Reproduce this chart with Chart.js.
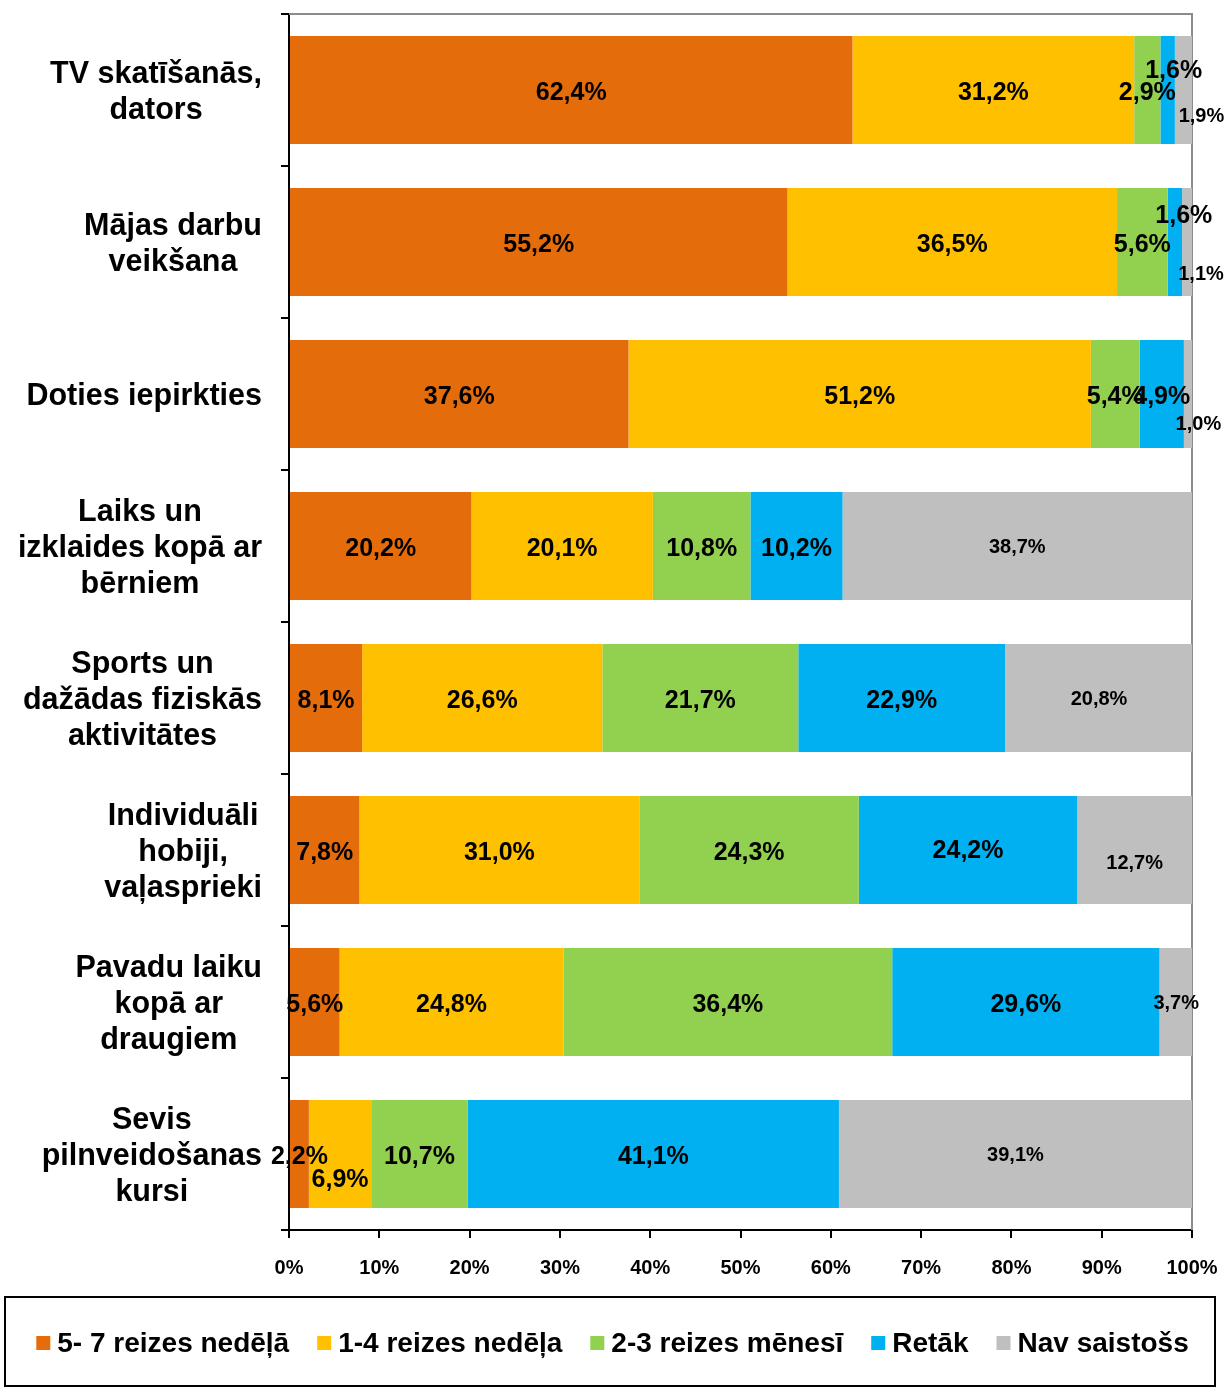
<!DOCTYPE html>
<html lang="lv">
<head>
<meta charset="UTF-8">
<title>Brīvā laika aktivitātes</title>
<script src="https://cdn.jsdelivr.net/npm/chart.js"></script>
<style>
  html, body { margin: 0; padding: 0; background: #fff; }
  #wrap { width: 1225px; height: 1393px; }
</style>
</head>
<body>
<div id="wrap"><canvas id="chart"></canvas></div>
<script>
// kategorijas (rindas no augšas uz leju)
const categories = [
  ["TV skatīšanās,", "dators"],
  ["Mājas darbu", "veikšana"],
  ["Doties iepirkties"],
  ["Laiks un", "izklaides kopā ar", "bērniem"],
  ["Sports un", "dažādas fiziskās", "aktivitātes"],
  ["Individuāli", "hobiji,", "vaļasprieki"],
  ["Pavadu laiku", "kopā ar", "draugiem"],
  ["Sevis", "pilnveidošanas", "kursi"]
];

const seriesNames = ["5- 7 reizes nedēļā", "1-4 reizes nedēļa", "2-3 reizes mēnesī", "Retāk", "Nav saistošs"];

const daily   = [62.4, 55.2, 37.6, 20.2,  8.1,  7.8,  5.6,  2.2];
const weekly  = [31.2, 36.5, 51.2, 20.1, 26.6, 31.0, 24.8,  6.9];
const monthly = [ 2.9,  5.6,  5.4, 10.8, 21.7, 24.3, 36.4, 10.7];
const rarely  = [ 1.6,  1.6,  4.9, 10.2, 22.9, 24.2, 29.6, 41.1];
const never   = [ 1.9,  1.1,  1.0, 38.7, 20.8, 12.7,  3.7, 39.1];

const xTicks = [0, 10, 20, 30, 40, 50, 60, 70, 80, 90, 100];

const colors = ["#E46C0A", "#FFC000", "#92D050", "#00B0F0", "#BFBFBF"];

// atsevišķu uzrakstu nobīdes (rinda, sērija, dx, dy)
const labelNudges = [
  [0, 3, 6, -19], [0, 4, 18, 26],
  [1, 3, 9, -26], [1, 4, 14, 32],
  [2, 4, 10, 30],
  [5, 3, 0, 1], [5, 4, 0, 13],
  [7, 1, 0, 26]
];

const FONT = "'Liberation Sans', Arial, sans-serif";

const fmt = v => v.toFixed(1).replace('.', ',') + '%';

const frameLines = {
  id: 'frameLines',
  beforeDatasetsDraw(chart) {
    const a = chart.chartArea, ctx = chart.ctx;
    ctx.save();
    ctx.strokeStyle = '#8c8c8c';
    ctx.lineWidth = 2;
    ctx.beginPath();
    ctx.moveTo(a.left, a.top);
    ctx.lineTo(a.right, a.top);
    ctx.lineTo(a.right, a.bottom);
    ctx.stroke();
    ctx.restore();
  }
};

const segLabels = {
  id: 'segLabels',
  afterDatasetsDraw(chart) {
    const ctx = chart.ctx;
    ctx.save();
    ctx.fillStyle = '#000';
    ctx.textAlign = 'center';
    ctx.textBaseline = 'middle';
    chart.data.datasets.forEach((ds, di) => {
      const meta = chart.getDatasetMeta(di);
      ctx.font = 'bold ' + (di === 4 ? 20 : 25) + 'px ' + FONT;
      meta.data.forEach((el, i) => {
        let dx = 0, dy = di === 4 ? 1 : 3;
        labelNudges.forEach(n => {
          if (n[0] === i && n[1] === di) { dx = n[2]; dy = n[3]; }
        });
        ctx.fillText(fmt(ds.data[i]), (el.x + el.base) / 2 + dx, el.y + dy);
      });
    });
    ctx.restore();
  }
};

const catLabels = {
  id: 'catLabels',
  afterDraw(chart) {
    const ctx = chart.ctx, y = chart.scales.y;
    const right = 262, lh = 36;
    ctx.save();
    ctx.font = 'bold 30.5px ' + FONT;
    ctx.fillStyle = '#000';
    ctx.textAlign = 'center';
    ctx.textBaseline = 'middle';
    categories.forEach((lines, i) => {
      const w = Math.max(...lines.map(l => ctx.measureText(l).width));
      const cx = right - w / 2;
      const cy = y.getPixelForValue(i) + 3;
      lines.forEach((l, k) => {
        ctx.fillText(l, cx, cy + (k - (lines.length - 1) / 2) * lh);
      });
    });
    ctx.restore();
  }
};

const boxLegend = {
  id: 'boxLegend',
  afterDraw(chart) {
    const ctx = chart.ctx;
    const box = 14, gapText = 7, gapItem = 28, cy = 1343;
    ctx.save();
    ctx.strokeStyle = '#000';
    ctx.lineWidth = 2;
    ctx.strokeRect(5, 1297, 1210, 89);
    ctx.font = 'bold 28px ' + FONT;
    ctx.textBaseline = 'middle';
    ctx.textAlign = 'left';
    const widths = seriesNames.map(s => ctx.measureText(s).width);
    let total = 0;
    widths.forEach((w, i) => { total += box + gapText + w + (i < widths.length - 1 ? gapItem : 0); });
    let x = (chart.width - total) / 2;
    seriesNames.forEach((s, i) => {
      ctx.fillStyle = colors[i];
      ctx.fillRect(x, cy - box / 2, box, box);
      ctx.fillStyle = '#000';
      ctx.fillText(s, x + box + gapText, cy + 1);
      x += box + gapText + widths[i] + gapItem;
    });
    ctx.restore();
  }
};

const allSeries = [daily, weekly, monthly, rarely, never];

new Chart(document.getElementById('chart'), {
  type: 'bar',
  data: {
    labels: categories.map(c => c.join(' ')),
    datasets: allSeries.map((d, i) => ({
      label: seriesNames[i],
      data: d,
      backgroundColor: colors[i],
      borderWidth: 0,
      categoryPercentage: 1,
      barPercentage: 0.71
    }))
  },
  options: {
    indexAxis: 'y',
    responsive: true,
    maintainAspectRatio: false,
    animation: false,
    layout: { padding: { top: 14, right: 33, bottom: 103, left: 0 } },
    plugins: {
      legend: { display: false },
      tooltip: { enabled: false }
    },
    scales: {
      x: {
        stacked: true,
        min: 0,
        max: 100,
        afterBuildTicks(scale) { scale.ticks = xTicks.map(v => ({ value: v })); },
        afterFit(scale) {
          scale.height = 60;
          scale.paddingLeft = 0;
          scale.paddingRight = 0;
        },
        border: { color: '#000', width: 2 },
        grid: { drawOnChartArea: false, drawTicks: true, tickLength: 8, color: '#000', lineWidth: 2 },
        ticks: {
          padding: 18,
          color: '#000',
          font: { family: FONT, size: 20, weight: 'bold' },
          callback: v => v + '%'
        }
      },
      y: {
        stacked: true,
        afterFit(scale) {
          scale.width = 289;
          scale.paddingTop = 0;
          scale.paddingBottom = 0;
        },
        border: { color: '#000', width: 2 },
        grid: { offset: true, drawOnChartArea: false, drawTicks: true, tickLength: 8, color: '#000', lineWidth: 2 },
        ticks: { display: false }
      }
    }
  },
  plugins: [frameLines, segLabels, catLabels, boxLegend]
});
</script>
</body>
</html>
